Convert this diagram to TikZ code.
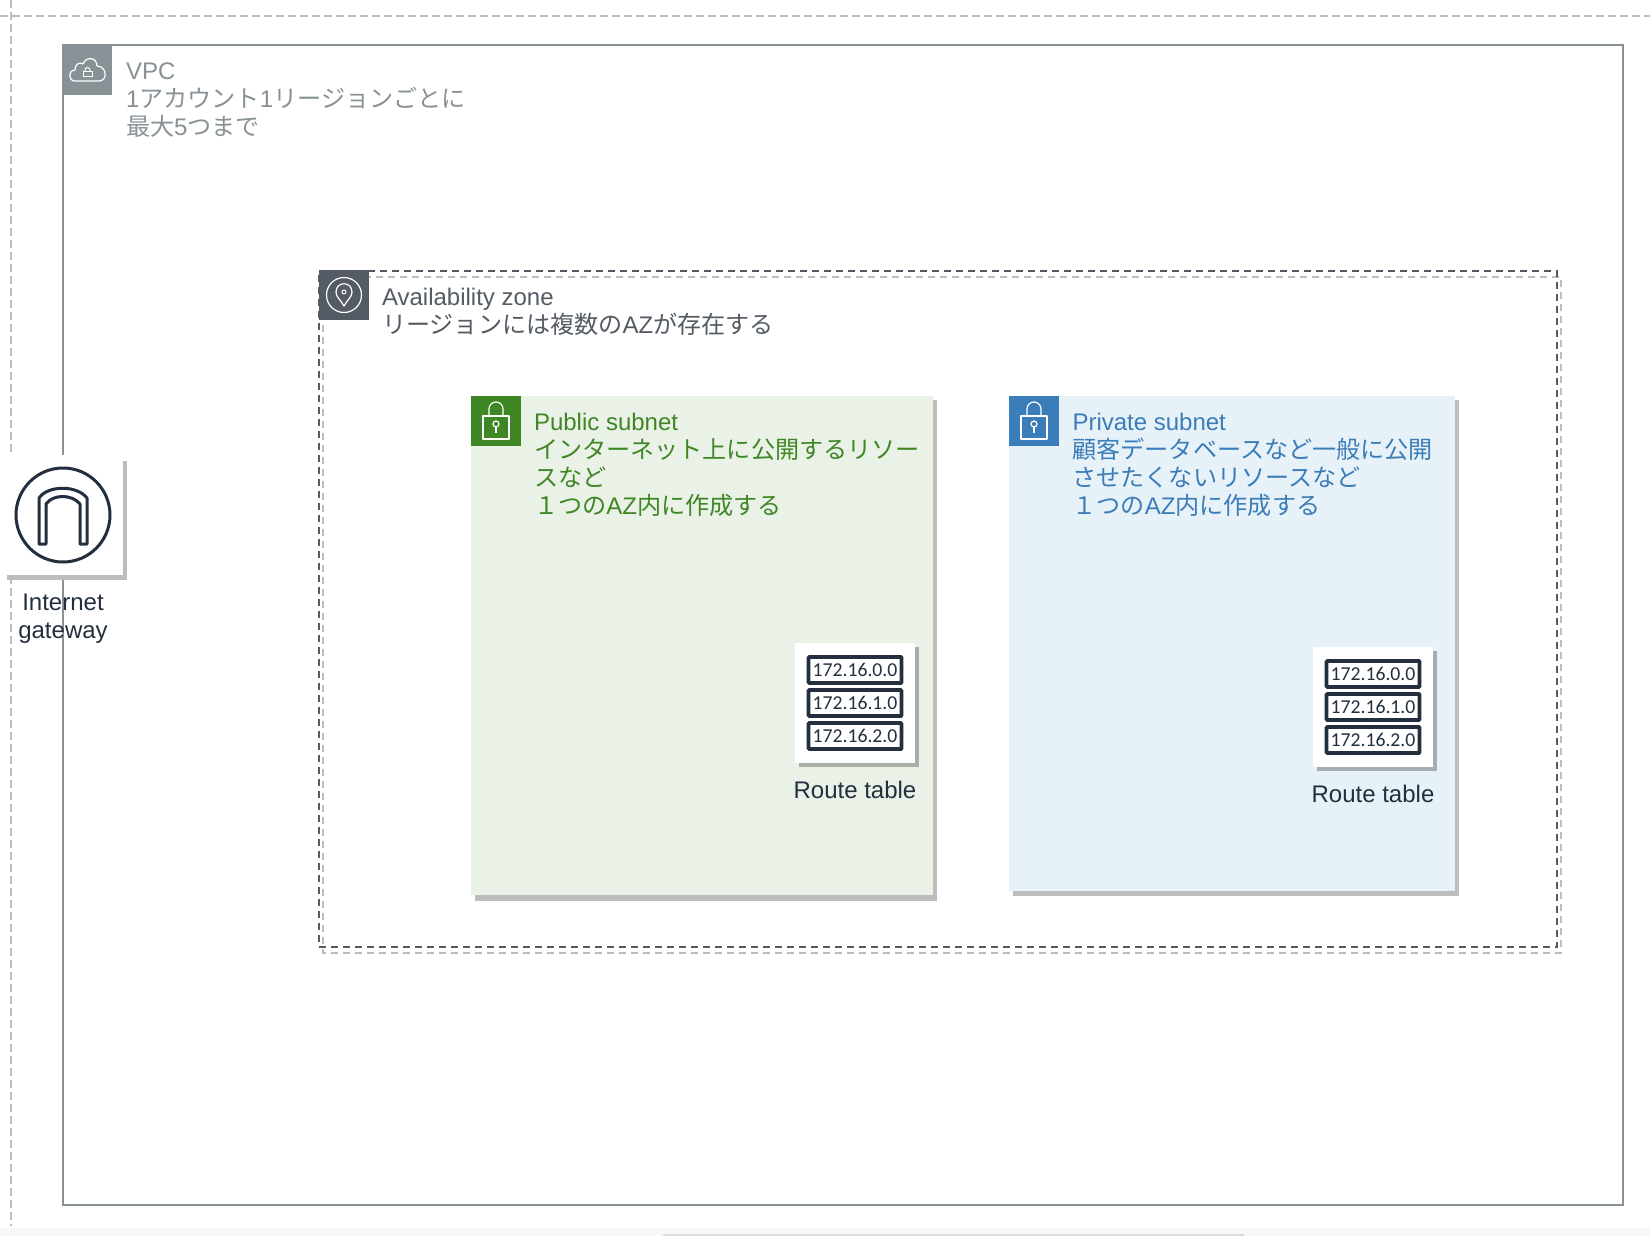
\documentclass[tikz,border=0pt]{standalone}
\usepackage{fontspec}
\setmainfont{Liberation Sans}
\newfontfamily\cjk[Scale=1.005]{Noto Sans CJK JP}
\newfontfamily\iptext{Carlito}
\newcommand{\J}[1]{{\cjk #1}}
\definecolor{vpcgray}{HTML}{879196}
\definecolor{azdark}{HTML}{545B64}
\definecolor{pubgreen}{HTML}{3F8624}
\definecolor{pubfill}{HTML}{EAF2E7}
\definecolor{privblue}{HTML}{3B7DB8}
\definecolor{privfill}{HTML}{E7F1F8}
\definecolor{shadowgray}{HTML}{BDBDBD}
\definecolor{awsink}{HTML}{232F3E}
\definecolor{stripfill}{HTML}{F6F8FA}
\tikzset{
  x=1pt,y=-1pt,
  every node/.style={inner sep=0pt,outer sep=0pt},
  panel/.style={anchor=north west},
  label block/.style={anchor=north west,align=left,font=\fontsize{24}{28}\selectfont},
  iconbox/.style={anchor=north west,minimum width=50pt,minimum height=50pt},
  iconline/.style={draw=white,line width=1.2pt,line join=round},
  rowbox/.style={draw=awsink,line width=3.6pt,fill=white,rounded corners=0.8pt,minimum width=93pt,minimum height=26pt,font=\iptext\fontsize{19.7}{19.7}\selectfont,text=awsink},
  rtlabel/.style={font=\fontsize{24}{28.5}\selectfont,text=awsink,anchor=base},
  azdash/.style={line width=2pt,dash pattern=on 7pt off 5pt},
}
\newcommand{\padlock}[2]{%
  \begin{scope}[shift={(#1,#2)}]
    \draw[iconline] (12,20) rectangle (38,43);
    \draw[iconline] (18,20) -- (18,13) arc[start angle=180,end angle=0,radius=7,y radius=-7] -- (32,20);
    \draw[iconline] (25,28) circle[radius=3];
    \draw[iconline] (25,31) -- (25,37);
  \end{scope}}
\newcommand{\routetable}[3]{%
  \fill[#3] (#1+4,#2+4) rectangle (#1+124,#2+124);
  \node[panel,fill=white,minimum width=120pt,minimum height=120pt] (rt#1) at (#1,#2) {};
  \node[rowbox] (rt#1a) at (#1+60,#2+27) {172.16.0.0};
  \node[rowbox] (rt#1b) at (#1+60,#2+60) {172.16.1.0};
  \node[rowbox] (rt#1c) at (#1+60,#2+93) {172.16.2.0};
  \node[rtlabel] (rt#1t) at (#1+60,#2+155) {Route table};}
\begin{document}
\begin{tikzpicture}
\useasboundingbox (0,0) rectangle (1650,1236);
\fill[white] (0,0) rectangle (1650,1236);
% bottom strip of the window
\fill[stripfill] (0,1228) rectangle (1650,1236);
\fill[black!14] (663,1234) rectangle (1244,1236);
% outer dashed frame
\draw[shadowgray,line width=1.3pt,dash pattern=on 8pt off 4pt] (0,16) -- (1650,16);
\draw[shadowgray,line width=1.3pt,dash pattern=on 8pt off 4pt] (11,0) -- (11,1226);
% VPC
\node[panel,draw=vpcgray,line width=2pt,minimum width=1560pt,minimum height=1160pt] (vpc) at (63,45) {};
\node[iconbox,fill=vpcgray] (vpcicon) at (62,45) {};
\draw[iconline] (75,81) .. controls (68,81) and (68,70) .. (75,70)
  .. controls (75,63) and (81,62) .. (83,64) .. controls (86,56) and (97,57) .. (97,66)
  .. controls (107,66) and (108,81) .. (99,81) -- cycle;
\draw[iconline,line width=1pt] (83,72) rectangle (92,77);
\draw[iconline,line width=1pt] (85,72) -- (85,70) arc[start angle=180,end angle=0,radius=2.5,y radius=-2.5] -- (90,72);
\node[label block,text=vpcgray] (vpclabel) at (126,62.5) {VPC\\1\J{アカウント}1\J{リージョンごとに}\\\J{最大}5\J{つまで}};
% Availability zone
\draw[shadowgray,azdash] (323,277) rectangle (1561,953);
\node[panel,draw=azdark,azdash,minimum width=1238pt,minimum height=676pt] (az) at (319,271) {};
\node[iconbox,fill=azdark] (azicon) at (319,270) {};
\draw[iconline] (344,295) circle[radius=17.5];
\draw[iconline] (344,306) .. controls (340,299) and (336,297) .. (336,292) .. controls (336,281) and (352,281) .. (352,292) .. controls (352,297) and (348,299) .. (344,306) -- cycle;
\draw[iconline,line width=1pt] (344,292) circle[radius=2];
\node[label block,text=azdark] (azlabel) at (382,288.5) {Availability zone\\\J{リージョンには複数の}AZ\J{が存在する}};
% Public subnet
\fill[shadowgray] (475,400) rectangle (937,901);
\node[panel,fill=pubfill,minimum width=462pt,minimum height=499pt] (pub) at (471,396) {};
\node[iconbox,fill=pubgreen] (pubicon) at (471,396) {};
\padlock{471}{396}
\node[label block,text=pubgreen] (publabel) at (534,413) {Public subnet\\\J{インターネット上に公開するリソー}\\\J{スなど}\\\J{１つの}AZ\J{内に作成する}};
\routetable{795}{643}{black!28!pubfill}
% Private subnet
\fill[shadowgray] (1013,400) rectangle (1459,896);
\node[panel,fill=privfill,minimum width=446pt,minimum height=495pt] (priv) at (1009,396) {};
\node[iconbox,fill=privblue] (privicon) at (1009,396) {};
\padlock{1009}{396}
\node[label block,text=privblue] (privlabel) at (1072.5,413) {Private subnet\\\J{顧客データベースなど一般に公開}\\\J{させたくないリソースなど}\\\J{１つの}AZ\J{内に作成する}};
\routetable{1313}{647}{black!28!privfill}
% Internet gateway
\fill[shadowgray] (7,461) rectangle (127,580);
\node[panel,fill=white,minimum width=116pt,minimum height=120pt] (igw) at (7,455) {};
\draw[awsink,line width=3pt] (63,515) circle[radius=47];
\draw[awsink,line width=3pt,line join=round] (39,544) -- (39,498) .. controls (48,485) and (77,485) .. (87,498) -- (87,544) -- (80,544) -- (80,504) .. controls (72,494) and (53,494) .. (46,504) -- (46,544) -- cycle;
\draw[vpcgray,line width=1.6pt] (63,580) -- (63,640);
\node[rtlabel,align=center,anchor=north] (igwlabel) at (63,593.5) {Internet\\gateway};
\end{tikzpicture}
\end{document}
